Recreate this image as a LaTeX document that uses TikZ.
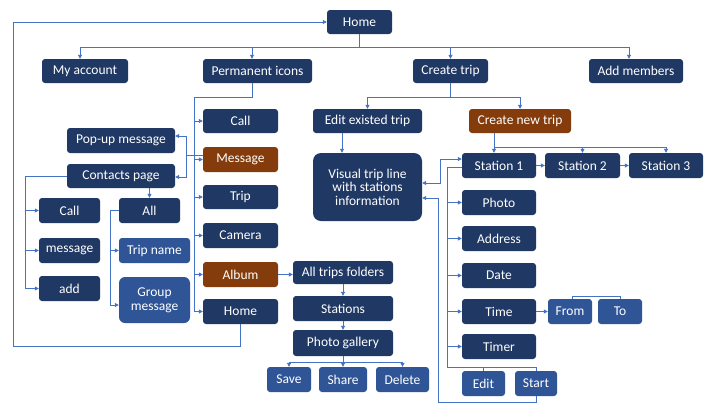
\documentclass[tikz,border=0pt]{standalone}
\usepackage{fontspec}
\setmainfont{Carlito}
\usetikzlibrary{arrows.meta}
\definecolor{navy}{HTML}{203864}
\definecolor{lblue}{HTML}{2F5597}
\definecolor{brn}{HTML}{843C0C}
\definecolor{lnc}{HTML}{4472C4}
\tikzset{
  bx/.style={rectangle, rounded corners=3pt, fill=navy, text=white, inner sep=0pt,
    font=\fontsize{13.5}{15}\selectfont, align=center},
  lb/.style={bx, fill=lblue},
  br/.style={bx, fill=brn},
  ln/.style={draw=lnc, line width=0.8pt},
  arr/.style={ln, -{Triangle[length=4pt,width=4pt]}},
  darr/.style={ln, {Triangle[length=4pt,width=4pt]}-{Triangle[length=4pt,width=4pt]}},
}
\begin{document}
\begin{tikzpicture}[x=1pt,y=-1pt]
\useasboundingbox (0,0) rectangle (720,405);
\fill[white] (0,0) rectangle (720,405);
% nodes
\node[bx, minimum width=65, minimum height=24] (home) at (359.5,22) {Home};
\node[bx, minimum width=86, minimum height=24] (acct) at (85,71) {My account};
\node[bx, minimum width=109, minimum height=24] (perm) at (257.5,71) {Permanent icons};
\node[bx, minimum width=75, minimum height=24] (ctrip) at (450.5,71) {Create trip};
\node[bx, minimum width=94, minimum height=24] (addm) at (636,71) {Add members};
\node[bx, minimum width=75, minimum height=24] (call) at (240.5,121) {Call};
\node[br, minimum width=75, minimum height=25] (msg) at (240.5,159.5) {Message};
\node[bx, minimum width=75, minimum height=24] (trip) at (240.5,197) {Trip};
\node[bx, minimum width=75, minimum height=25] (cam) at (240.5,235.5) {Camera};
\node[br, minimum width=75, minimum height=25] (album) at (240.5,274.5) {Album};
\node[bx, minimum width=75, minimum height=25] (home2) at (240.5,311.5) {Home};
\node[bx, minimum width=108, minimum height=25] (popup) at (121,140.5) {Pop-up message};
\node[bx, minimum width=108, minimum height=24] (contacts) at (121,176) {Contacts page};
\node[bx, minimum width=61, minimum height=25] (lcall) at (69.5,210.5) {Call};
\node[bx, minimum width=61, minimum height=25] (lmsg) at (69.5,250.5) {message};
\node[bx, minimum width=61, minimum height=25] (ladd) at (69.5,288.5) {add};
\node[bx, minimum width=61, minimum height=25] (all) at (149.5,210.5) {All};
\node[lb, minimum width=71, minimum height=25] (tripname) at (154.5,250.5) {Trip name};
\node[lb, rounded corners=6pt, minimum width=71, minimum height=46] (group) at (154.5,300) {Group\\[-1pt]message};
\node[bx, minimum width=100, minimum height=23] (folders) at (343,272.5) {All trips folders};
\node[bx, minimum width=100, minimum height=25] (stations) at (343,308.5) {Stations};
\node[bx, minimum width=100, minimum height=26] (gallery) at (343,343) {Photo gallery};
\node[lb, minimum width=44, minimum height=25] (save) at (289,379.5) {Save};
\node[lb, minimum width=48, minimum height=25] (share) at (343,379.5) {Share};
\node[lb, minimum width=53, minimum height=25] (delete) at (402.5,379.5) {Delete};
\node[bx, minimum width=109, minimum height=24] (edit) at (367.5,121) {Edit existed trip};
\node[br, minimum width=102, minimum height=24] (newtrip) at (520,121) {Create new trip};
\node[bx, rounded corners=8pt, minimum width=109, minimum height=68] (visual) at (367.5,187) {Visual trip line\\[-1.5pt]with stations\\[-1.5pt]information};
\node[bx, minimum width=74, minimum height=25] (st1) at (499,165.5) {Station 1};
\node[bx, minimum width=75, minimum height=25] (st2) at (582.5,165.5) {Station 2};
\node[bx, minimum width=74, minimum height=25] (st3) at (666,165.5) {Station 3};
\node[bx, minimum width=74, minimum height=25] (photo) at (499,202.5) {Photo};
\node[bx, minimum width=74, minimum height=25] (address) at (499,238.5) {Address};
\node[bx, minimum width=74, minimum height=25] (date) at (499,275.5) {Date};
\node[bx, minimum width=74, minimum height=25] (time) at (499,311.5) {Time};
\node[bx, minimum width=74, minimum height=25] (timer) at (499,346.5) {Timer};
\node[lb, minimum width=43, minimum height=25] (editb) at (483.5,383.5) {Edit};
\node[lb, minimum width=42, minimum height=25] (start) at (536,383.5) {Start};
\node[lb, minimum width=44, minimum height=25] (from) at (570,311.5) {From};
\node[lb, minimum width=44, minimum height=25] (to) at (620,311.5) {To};
% helper coordinates
\coordinate (yb1) at (0,47);
\coordinate (acn) at ([xshift=-5]acct.north);
\coordinate (pen) at ([xshift=-5.5]perm.north);
\coordinate (adn) at ([xshift=-7]addm.north);
\coordinate (lp) at (13,346);
\coordinate (pes) at ([xshift=-5.5]perm.south);
\coordinate (pb) at (194,97);
\coordinate (mb) at (186,155);
\coordinate (cl) at (25,178);
\coordinate (al) at (110,0);
\coordinate (gw) at ([yshift=-5]group.west);
\coordinate (gb) at (0,362);
\coordinate (cb) at (0,97);
\coordinate (eds) at ([xshift=-25.5]edit.south);
\coordinate (nts) at ([xshift=-26]newtrip.south);
\coordinate (s1n) at ([xshift=-5]st1.north);
\coordinate (nb) at (0,147);
\coordinate (xa) at (440,0);
\coordinate (va) at ([yshift=4]visual.east);
\coordinate (s1a) at ([yshift=6.5]st1.west);
\coordinate (yb) at (438,402);
\coordinate (vb) at ([yshift=-11]visual.east);
\coordinate (xc) at (447,367);
\coordinate (s1c) at ([yshift=-1.5]st1.west);
\coordinate (frn) at ([xshift=2]from.north);
% top level
\draw[ln] (home.south) -- (home.south |- yb1);
\draw[arr] (home.south |- yb1) -| (acn);
\draw[arr] (home.south |- yb1) -| (pen);
\draw[arr] (home.south |- yb1) -| (ctrip.north);
\draw[arr] (home.south |- yb1) -| (adn);
\draw[arr] (home2.south) |- (lp) |- (home.west);
% permanent icons
\draw[ln] (pes) |- (pb) -- (pb |- home2.west);
\foreach \n in {call,msg,trip,cam,album,home2}
  \draw[arr] (pb |- \n.west) -- (\n.west);
% message branches
\draw[ln] ([yshift=4.5]msg.west) -- (mb);
\draw[arr] (mb) |- ([yshift=4.5]popup.east);
\draw[arr] (mb) |- ([yshift=-1]contacts.east);
% contacts
\draw[ln] (contacts.west) -- (cl |- contacts.west) -- (cl |- ladd.west);
\foreach \n in {lcall,lmsg,ladd}
  \draw[arr] (cl |- \n.west) -- (\n.west);
\draw[arr] (all.north |- contacts.south) -- (all.north);
\draw[ln] (all.west) -- (al |- all.west) -- (al |- gw);
\draw[arr] (al |- tripname.west) -- (tripname.west);
\draw[arr] (al |- gw) -- (gw);
% album
\draw[arr] (album.east) -- (album.east -| folders.west);
\draw[arr] (folders.south) -- (stations.north);
\draw[arr] (stations.south) -- (gallery.north);
\draw[ln] (gallery.south) -- (gallery.south |- gb);
\draw[arr] (gallery.south |- gb) -| (save.north);
\draw[arr] (gallery.south |- gb) -- (share.north);
\draw[arr] (gallery.south |- gb) -| (delete.north);
% create trip
\draw[ln] (ctrip.south) -- (ctrip.south |- cb);
\draw[arr] (ctrip.south |- cb) -| (edit.north);
\draw[arr] (ctrip.south |- cb) -| (newtrip.north);
\draw[arr] (eds) -- (eds |- visual.north);
\draw[ln] (nts) -- (nts |- nb) -- (st3.north |- nb);
\draw[arr] (s1n |- nb) -- (s1n);
\draw[arr] (st2.north |- nb) -- (st2.north);
\draw[arr] (st3.north |- nb) -- (st3.north);
\draw[arr] (st1.east) -- (st2.west);
\draw[arr] (st2.east) -- (st3.west);
% station 1 links
\draw[darr] (va) -- (va -| xa) |- (s1a);
\draw[arr] (start.south) |- (yb) |- (vb);
\draw[ln] (s1c) -| (xc) -- (start.north |- xc) -- (start.north);
\foreach \n in {photo,address,date,time,timer}
  \draw[arr] (xc |- \n.west) -- (\n.west);
\draw[ln] (editb.north |- xc) -- (editb.north);
\draw[arr] (time.east) -- (from.west);
\draw[ln] (frn) -- ++(0,-2) -| (to.north);
\end{tikzpicture}
\end{document}
